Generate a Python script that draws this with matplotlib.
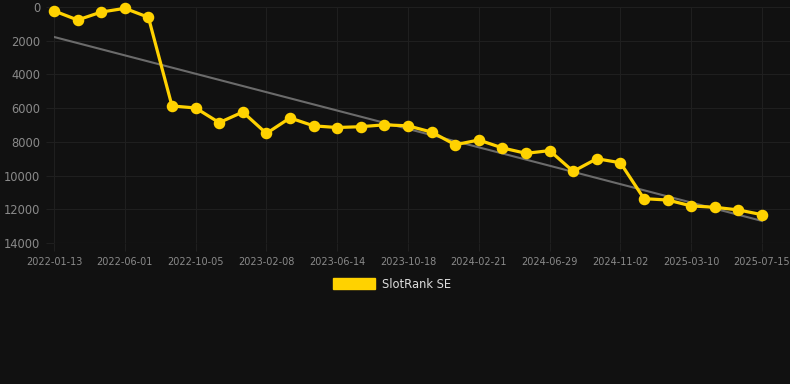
import numpy as np
import matplotlib.pyplot as plt
from matplotlib.patches import Patch

dates = ["2022-01-13", "2022-02-28", "2022-04-15", "2022-06-01", "2022-07-13",
         "2022-08-24", "2022-10-05", "2022-11-16", "2022-12-28", "2023-02-08",
         "2023-03-22", "2023-05-03", "2023-06-14", "2023-07-26", "2023-09-06",
         "2023-10-18", "2023-11-29", "2024-01-10", "2024-02-21", "2024-04-03",
         "2024-05-16", "2024-06-29", "2024-08-04", "2024-09-19", "2024-11-02",
         "2024-12-10", "2025-01-24", "2025-03-10", "2025-04-18", "2025-06-01",
         "2025-07-15"]
rank = [230, 770, 300, 80, 610, 5870, 5990, 6860, 6230, 7500,
        6580, 7050, 7150, 7100, 6990, 7050, 7420, 8170, 7890, 8360,
        8680, 8520, 9750, 9000, 9240, 11370, 11450, 11800, 11880, 12040,
        12320]
series_name = "SlotRank SE"

bg = "#111111"
grid_c = "#1f1f1f"
text_c = "#8a8a8a"
gold = "#FFD200"

x = np.arange(len(dates))
# linear trend through the ranks
slope, icpt = np.polyfit(x, rank, 1)
trend = slope * x + icpt

fig = plt.figure(figsize=(7.9, 3.84), dpi=100, facecolor=bg)
ax = fig.add_axes([54/790, 1 - 243/384, 1 - 54/790, (243 - 7)/384])
ax.set_facecolor(bg)

ax.plot(x, trend, color="#6b6b6b", lw=1.5, zorder=2)
ax.plot(x, rank, color=gold, lw=2.3, marker="o", ms=7.3, zorder=3, clip_on=False)

ax.set_ylim(14000, 0)
ax.set_xlim(0, 30 * 736 / 708)
ax.set_yticks(np.arange(0, 14001, 2000))
ax.set_xticks(x[::3])
ax.set_xticklabels(dates[::3])

ax.grid(True, color=grid_c, lw=0.8)
ax.tick_params(axis="both", colors=grid_c, labelcolor=text_c, length=6, width=0.8)
ax.tick_params(axis="y", labelsize=8.3, pad=4)
ax.tick_params(axis="x", labelsize=7, pad=4)
for s in ax.spines.values():
    s.set_visible(False)
ax.axhline(14000, color="#2c2c2c", lw=0.8, zorder=1)

leg = fig.legend(handles=[Patch(facecolor=gold, edgecolor=gold, label=series_name)],
                 loc="center", bbox_to_anchor=(392/790, 1 - 284/384),
                 frameon=False, handlelength=3.6, handleheight=1.1,
                 fontsize=8.3, handletextpad=0.6)
for t in leg.get_texts():
    t.set_color("#dddddd")

fig.savefig("out.png", dpi=100, facecolor=bg)
